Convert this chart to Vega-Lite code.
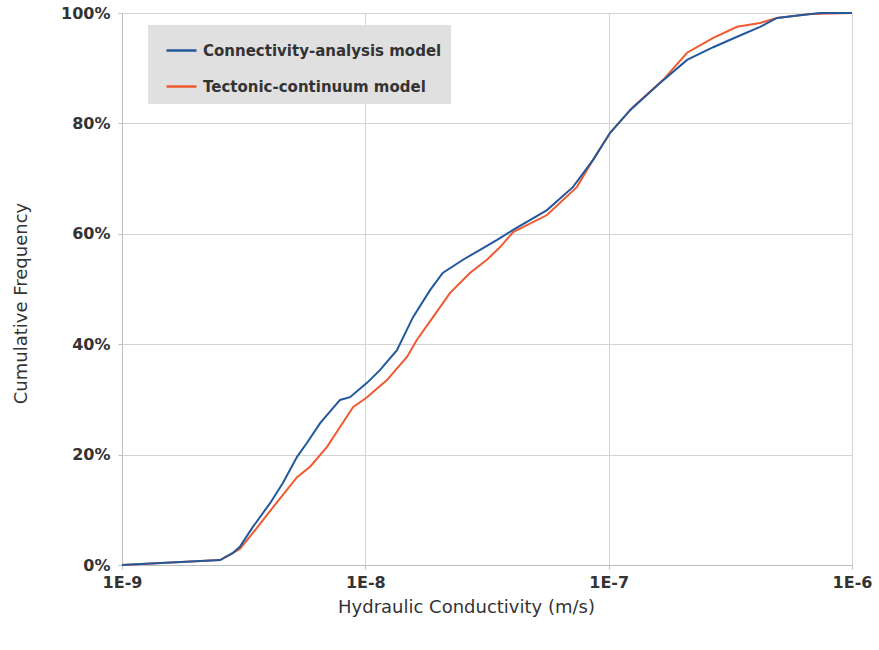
{
  "$schema": "https://vega.github.io/schema/vega-lite/v6.json",
  "width": 730,
  "height": 552,
  "autosize": "none",
  "padding": {"left": 122, "top": 13, "right": 27, "bottom": 85},
  "background": "white",
  "config": {"view": {"stroke": null}, "font": "DejaVu Sans"},
  "data": {"values": [
    {"series": "Tectonic-continuum model", "K": 1e-9, "F": 0},
    {"series": "Tectonic-continuum model", "K": 2.53e-9, "F": 0.009},
    {"series": "Tectonic-continuum model", "K": 2.86e-9, "F": 0.022},
    {"series": "Tectonic-continuum model", "K": 3.05e-9, "F": 0.029},
    {"series": "Tectonic-continuum model", "K": 3.45e-9, "F": 0.058},
    {"series": "Tectonic-continuum model", "K": 4.18e-9, "F": 0.105},
    {"series": "Tectonic-continuum model", "K": 5.24e-9, "F": 0.159},
    {"series": "Tectonic-continuum model", "K": 5.93e-9, "F": 0.178},
    {"series": "Tectonic-continuum model", "K": 6.96e-9, "F": 0.214},
    {"series": "Tectonic-continuum model", "K": 7.87e-9, "F": 0.25},
    {"series": "Tectonic-continuum model", "K": 8.9e-9, "F": 0.286},
    {"series": "Tectonic-continuum model", "K": 1.016e-8, "F": 0.304},
    {"series": "Tectonic-continuum model", "K": 1.227e-8, "F": 0.335},
    {"series": "Tectonic-continuum model", "K": 1.483e-8, "F": 0.377},
    {"series": "Tectonic-continuum model", "K": 1.63e-8, "F": 0.408},
    {"series": "Tectonic-continuum model", "K": 1.897e-8, "F": 0.449},
    {"series": "Tectonic-continuum model", "K": 2.23e-8, "F": 0.493},
    {"series": "Tectonic-continuum model", "K": 2.69e-8, "F": 0.529},
    {"series": "Tectonic-continuum model", "K": 3.16e-8, "F": 0.553},
    {"series": "Tectonic-continuum model", "K": 3.58e-8, "F": 0.576},
    {"series": "Tectonic-continuum model", "K": 4.05e-8, "F": 0.603},
    {"series": "Tectonic-continuum model", "K": 5.58e-8, "F": 0.634},
    {"series": "Tectonic-continuum model", "K": 7.41e-8, "F": 0.685},
    {"series": "Tectonic-continuum model", "K": 8.63e-8, "F": 0.734},
    {"series": "Tectonic-continuum model", "K": 1.014e-7, "F": 0.783},
    {"series": "Tectonic-continuum model", "K": 1.259e-7, "F": 0.83},
    {"series": "Tectonic-continuum model", "K": 1.675e-7, "F": 0.879},
    {"series": "Tectonic-continuum model", "K": 2.1e-7, "F": 0.928},
    {"series": "Tectonic-continuum model", "K": 2.69e-7, "F": 0.955},
    {"series": "Tectonic-continuum model", "K": 3.37e-7, "F": 0.975},
    {"series": "Tectonic-continuum model", "K": 4.19e-7, "F": 0.982},
    {"series": "Tectonic-continuum model", "K": 4.92e-7, "F": 0.991},
    {"series": "Tectonic-continuum model", "K": 6.73e-7, "F": 0.998},
    {"series": "Tectonic-continuum model", "K": 1e-6, "F": 1.0},
    {"series": "Connectivity-analysis model", "K": 1e-9, "F": 0},
    {"series": "Connectivity-analysis model", "K": 2.53e-9, "F": 0.009},
    {"series": "Connectivity-analysis model", "K": 2.86e-9, "F": 0.022},
    {"series": "Connectivity-analysis model", "K": 3.05e-9, "F": 0.033},
    {"series": "Connectivity-analysis model", "K": 3.45e-9, "F": 0.069},
    {"series": "Connectivity-analysis model", "K": 4.06e-9, "F": 0.112},
    {"series": "Connectivity-analysis model", "K": 4.59e-9, "F": 0.149},
    {"series": "Connectivity-analysis model", "K": 5.24e-9, "F": 0.196},
    {"series": "Connectivity-analysis model", "K": 5.75e-9, "F": 0.221},
    {"series": "Connectivity-analysis model", "K": 6.52e-9, "F": 0.257},
    {"series": "Connectivity-analysis model", "K": 7.87e-9, "F": 0.299},
    {"series": "Connectivity-analysis model", "K": 8.65e-9, "F": 0.304},
    {"series": "Connectivity-analysis model", "K": 1.016e-8, "F": 0.33},
    {"series": "Connectivity-analysis model", "K": 1.148e-8, "F": 0.353},
    {"series": "Connectivity-analysis model", "K": 1.349e-8, "F": 0.389},
    {"series": "Connectivity-analysis model", "K": 1.57e-8, "F": 0.449},
    {"series": "Connectivity-analysis model", "K": 1.845e-8, "F": 0.498},
    {"series": "Connectivity-analysis model", "K": 2.08e-8, "F": 0.529},
    {"series": "Connectivity-analysis model", "K": 2.52e-8, "F": 0.553},
    {"series": "Connectivity-analysis model", "K": 2.96e-8, "F": 0.571},
    {"series": "Connectivity-analysis model", "K": 3.48e-8, "F": 0.589},
    {"series": "Connectivity-analysis model", "K": 4.05e-8, "F": 0.607},
    {"series": "Connectivity-analysis model", "K": 5.58e-8, "F": 0.643},
    {"series": "Connectivity-analysis model", "K": 7.14e-8, "F": 0.685},
    {"series": "Connectivity-analysis model", "K": 8.63e-8, "F": 0.734},
    {"series": "Connectivity-analysis model", "K": 1.014e-7, "F": 0.783},
    {"series": "Connectivity-analysis model", "K": 1.225e-7, "F": 0.824},
    {"series": "Connectivity-analysis model", "K": 1.626e-7, "F": 0.873},
    {"series": "Connectivity-analysis model", "K": 2.1e-7, "F": 0.915},
    {"series": "Connectivity-analysis model", "K": 2.69e-7, "F": 0.938},
    {"series": "Connectivity-analysis model", "K": 3.37e-7, "F": 0.957},
    {"series": "Connectivity-analysis model", "K": 4.19e-7, "F": 0.975},
    {"series": "Connectivity-analysis model", "K": 4.92e-7, "F": 0.991},
    {"series": "Connectivity-analysis model", "K": 6.12e-7, "F": 0.996},
    {"series": "Connectivity-analysis model", "K": 7.4e-7, "F": 1.0},
    {"series": "Connectivity-analysis model", "K": 1e-6, "F": 1.0}
  ]},
  "mark": {"type": "line", "strokeWidth": 2},
  "encoding": {
    "x": {
      "field": "K", "type": "quantitative",
      "scale": {"type": "log", "domain": [1e-9, 1e-6], "nice": false},
      "axis": {
        "title": "Hydraulic Conductivity (m/s)",
        "values": [1e-9, 1e-8, 1e-7, 1e-6],
        "labelExpr": "'1E' + round(log(datum.value) / LN10)",
        "labelFlush": false,
        "grid": true, "gridColor": "#d4d4d4",
        "domainColor": "#bdbdbd", "tickColor": "#bdbdbd", "tickSize": 4,
        "labelFontSize": 16, "labelFontWeight": "bold", "labelColor": "#333333", "labelPadding": 5,
        "titleFontSize": 18, "titleFontWeight": "normal", "titleColor": "#333333",
        "titleX": 344, "titleY": 42, "titleBaseline": "middle", "titleAlign": "center"
      }
    },
    "y": {
      "field": "F", "type": "quantitative",
      "scale": {"domain": [0, 1], "nice": false},
      "axis": {
        "title": "Cumulative Frequency",
        "values": [0, 0.2, 0.4, 0.6, 0.8, 1],
        "format": ".0%",
        "grid": true, "gridColor": "#d4d4d4",
        "domainColor": "#bdbdbd", "tickColor": "#bdbdbd", "tickSize": 4,
        "labelFontSize": 16, "labelFontWeight": "bold", "labelColor": "#333333", "labelPadding": 8,
        "titleFontSize": 18, "titleFontWeight": "normal", "titleColor": "#333333",
        "titleX": -101, "titleY": 290, "titleBaseline": "middle", "titleAlign": "center", "titleAngle": -90
      }
    },
    "color": {
      "field": "series", "type": "nominal",
      "scale": {"domain": ["Connectivity-analysis model", "Tectonic-continuum model"], "range": ["#22589c", "#f05a30"]},
      "legend": {
        "orient": "none", "legendX": 26, "legendY": 12, "title": null,
        "fillColor": "#e0e0e0", "padding": 9, "symbolOffset": 8,
        "symbolType": "stroke", "symbolSize": 900, "symbolStrokeWidth": 2.5,
        "labelFontSize": 15, "labelFontWeight": "bold", "labelColor": "#333333",
        "rowPadding": 11, "labelOffset": 5, "labelLimit": 400
      }
    }
  }
}
